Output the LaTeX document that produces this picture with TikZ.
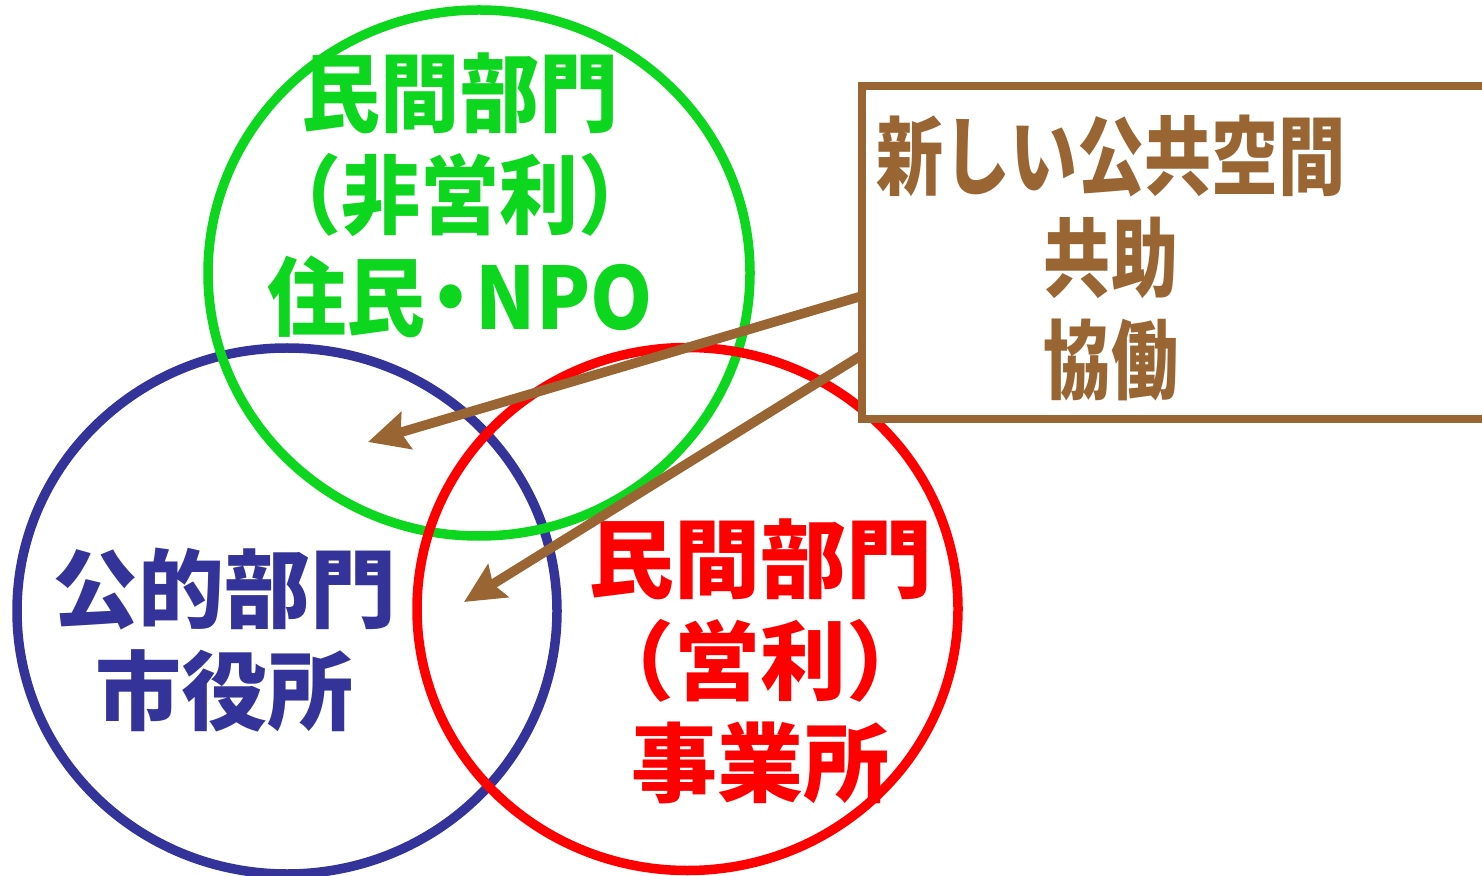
\documentclass[tikz,border=0pt]{standalone}
\usepackage{fontspec}
\newfontfamily\cjk{Noto Sans CJK JP Black}
\newfontfamily\cjkg[FakeStretch=0.92]{Noto Sans CJK JP Black}
\newfontfamily\cjkb[FakeStretch=0.78]{Noto Sans CJK JP Black}
\usetikzlibrary{arrows.meta}
\definecolor{cgreen}{RGB}{13,214,30}
\definecolor{cblue}{RGB}{51,51,153}
\definecolor{cred}{RGB}{255,0,0}
\definecolor{cbrown}{RGB}{153,102,51}
\newcommand{\lblsize}{\fontsize{43}{51}\selectfont}
\tikzset{
  ring/.style={line width=4.75pt},
  lbl/.style={align=center, inner sep=0pt},
  arr/.style={draw=cbrown, line width=4.8pt, -{Stealth[length=20pt, width=19pt, inset=3pt]}},
  boxst/.style={draw=cbrown, fill=white, line width=4pt, minimum width=319pt, minimum height=166.5pt, inner sep=0pt}
}
\begin{document}
\begin{tikzpicture}[x=0.5pt, y=-0.5pt]
\useasboundingbox (0,0) rectangle (1482,876);
\clip (0,0) rectangle (1482,876);
% circles
\draw[ring, cblue] (287,611) ellipse [x radius=135pt, y radius=131.5pt];
\draw[ring, cgreen] (479,273) ellipse [x radius=135.5pt, y radius=131.5pt];
\draw[ring, cred] (687.5,609) ellipse [x radius=135.25pt, y radius=130.75pt];
% labels
\node[lbl, text=cgreen, font={\cjkg\lblsize}] (pnp) at (460,195) {民間部門\\（非営利）\\住民\hspace{-0.17em}・\hspace{-0.17em}NPO};
\node[lbl, text=cblue, font={\cjk\lblsize}] (pub) at (224,640) {公的部門\\市役所};
\node[lbl, text=cred, font={\cjk\lblsize}] (pfp) at (760,661) {民間部門\\（営利）\\事業所};
% arrows
\coordinate (s1) at (862,296);
\coordinate (t1) at (368,442);
\coordinate (s2) at (862,355);
\coordinate (t2) at (464,602);
\draw[arr] (s1) -- (t1);
\draw[arr] (s2) -- (t2);
% box
\node[boxst] (box) at (1181,252.5) {};
\node[lbl, text=cbrown, font={\cjkb\lblsize}] (new) at (1111,258) {新しい公共空間\\共助\\協働};
\end{tikzpicture}
\end{document}
